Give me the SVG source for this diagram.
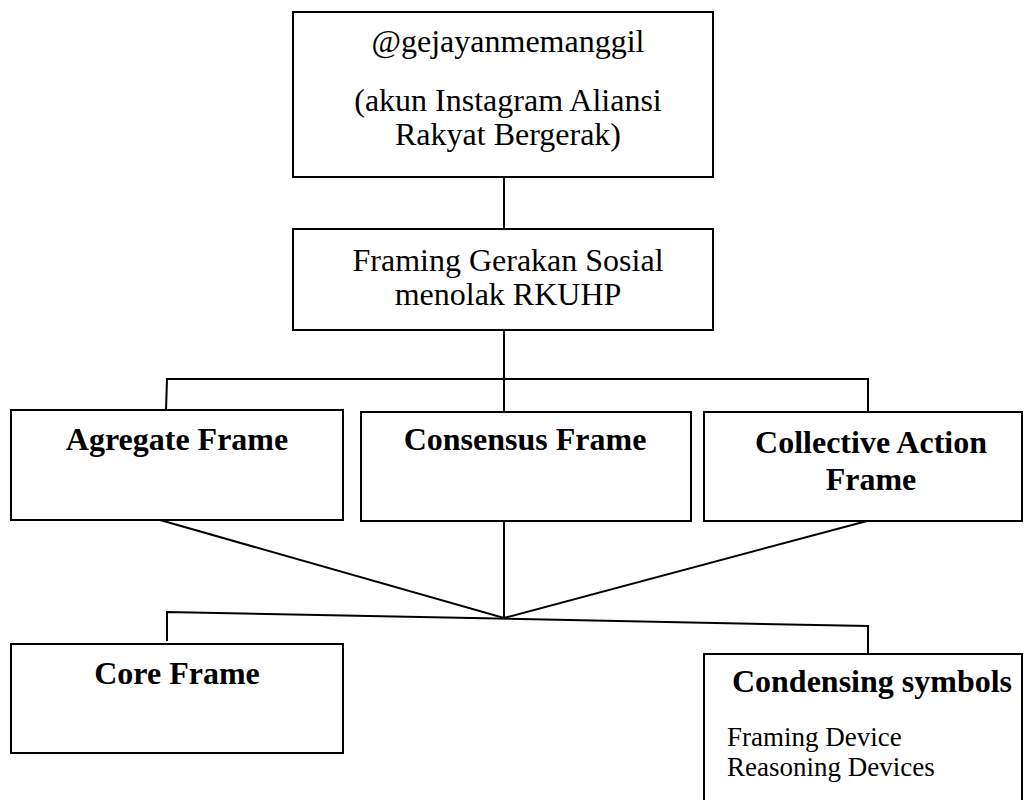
<svg xmlns="http://www.w3.org/2000/svg" width="1030" height="800" viewBox="0 0 1030 800">
<style>
.box{fill:#fff;stroke:#000;stroke-width:2}
.ln{fill:none;stroke:#000;stroke-width:2}
.t{font-family:"Liberation Serif","Times New Roman",serif;font-size:32px;fill:#000;text-anchor:middle}
.b{font-family:"Liberation Serif","Times New Roman",serif;font-size:32px;font-weight:bold;fill:#000;text-anchor:middle}
.s{font-family:"Liberation Serif","Times New Roman",serif;font-size:27px;fill:#000}
</style>
<rect width="1030" height="800" fill="#fff"/>
<g id="connectors">
<line class="ln" x1="504" y1="177" x2="504" y2="229"/>
<line class="ln" x1="504" y1="330" x2="504" y2="412"/>
<polyline class="ln" points="166,410 167,379 868,379 868,412"/>
<polyline class="ln" points="160,520 504,618 867,521"/>
<line class="ln" x1="504" y1="521" x2="504" y2="618"/>
<polyline class="ln" points="167,641 167,612 868,626 868,654"/>
</g>
<g id="account">
<rect class="box" x="293" y="12" width="420" height="165"/>
<text class="t" x="508" y="52">@gejayanmemanggil</text>
<text class="t" x="508" y="111">(akun Instagram Aliansi</text>
<text class="t" x="508" y="145">Rakyat Bergerak)</text>
</g>
<g id="framing">
<rect class="box" x="293" y="229" width="420" height="101"/>
<text class="t" x="508" y="271">Framing Gerakan Sosial</text>
<text class="t" x="508" y="305">menolak RKUHP</text>
</g>
<g id="agregate">
<rect class="box" x="11" y="410" width="332" height="110"/>
<text class="b" x="177" y="450">Agregate Frame</text>
</g>
<g id="consensus">
<rect class="box" x="361" y="412" width="330" height="109"/>
<text class="b" x="525" y="450">Consensus Frame</text>
</g>
<g id="collective">
<rect class="box" x="704" y="412" width="318" height="109"/>
<text class="b" x="871" y="453">Collective Action</text>
<text class="b" x="871" y="490">Frame</text>
</g>
<g id="core">
<rect class="box" x="11" y="644" width="332" height="109"/>
<text class="b" x="177" y="684">Core Frame</text>
</g>
<g id="condensing">
<rect class="box" x="704" y="654" width="318" height="160"/>
<text class="b" x="872" y="692">Condensing symbols</text>
<text class="s" x="727" y="746">Framing Device</text>
<text class="s" x="727" y="776">Reasoning Devices</text>
</g>
</svg>
